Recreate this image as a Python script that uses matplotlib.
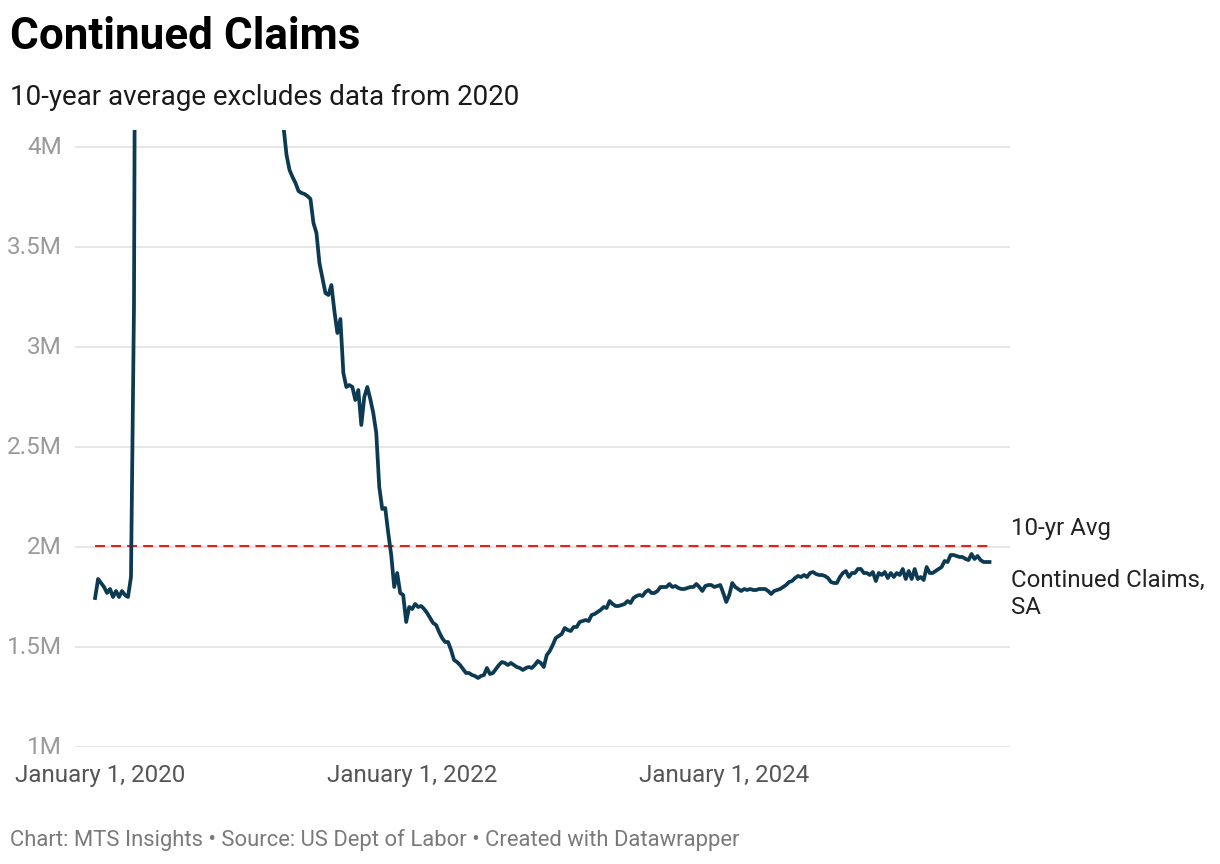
import numpy as np
import pandas as pd
import matplotlib
matplotlib.use("Agg")
import matplotlib.pyplot as plt
import matplotlib.transforms as mtransforms

plt.rcParams['font.family'] = ['Roboto', 'DejaVu Sans']

# weekly continued claims, millions (week ending Saturday, from 2019-12-21)
pre_covid = [1.745, 1.84, 1.82, 1.80, 1.77, 1.79, 1.75, 1.78, 1.75, 1.78, 1.76, 1.75, 1.85]
first_jump = [3.2]
# weeks above the top of the chart (clipped)
clipped = [7.4, 12.4, 15.8, 18.0, 22.4, 22.5, 23.1, 20.8, 21.3, 19.5, 19.3, 17.7, 17.2,
           17.3, 16.9, 16.2, 16.3, 14.8, 15.5, 14.5, 13.4, 12.7, 13.3, 11.9, 11.2, 10.0,
           9.4, 8.4, 7.3, 7.2, 6.8, 6.4, 6.1, 5.6, 5.5, 5.3, 5.3, 5.1, 5.2, 5.0, 5.2,
           5.1, 4.8, 4.8, 4.7, 4.5, 4.4, 4.3, 4.2, 4.1]
recovery = [3.96, 3.885, 3.85, 3.82, 3.78, 3.77, 3.765, 3.755, 3.74, 3.62, 3.57, 3.42,
            3.345, 3.27, 3.26, 3.31, 3.18, 3.07, 3.14, 2.87, 2.80, 2.81, 2.80, 2.735,
            2.785, 2.61, 2.75, 2.80, 2.74, 2.67, 2.57, 2.30, 2.19, 2.195, 2.07, 1.96,
            1.80, 1.87, 1.77, 1.76, 1.625, 1.70, 1.69, 1.715, 1.70, 1.705, 1.69, 1.67,
            1.645, 1.62, 1.61, 1.575, 1.545, 1.525, 1.525, 1.485, 1.435, 1.425, 1.41,
            1.39, 1.37, 1.37, 1.36, 1.355, 1.345, 1.355, 1.36, 1.395, 1.365, 1.37, 1.39,
            1.41, 1.425, 1.42, 1.41, 1.42, 1.41, 1.40, 1.395, 1.385, 1.395, 1.40, 1.395,
            1.41, 1.43, 1.42, 1.40, 1.46, 1.48, 1.51, 1.545, 1.555, 1.565, 1.595, 1.585,
            1.58, 1.60, 1.60, 1.625, 1.63, 1.635, 1.63, 1.66, 1.665, 1.675, 1.685, 1.70,
            1.695, 1.73, 1.715, 1.705, 1.705, 1.71, 1.715, 1.73, 1.72, 1.745, 1.755, 1.76,
            1.755, 1.775, 1.785, 1.77, 1.77, 1.78, 1.80, 1.80, 1.80, 1.815, 1.80, 1.805,
            1.795, 1.79, 1.79, 1.795, 1.80, 1.80, 1.815, 1.80, 1.78, 1.805, 1.81, 1.81,
            1.80, 1.805, 1.81, 1.77, 1.725, 1.76, 1.82, 1.80, 1.79, 1.78, 1.79, 1.785,
            1.79, 1.785, 1.785, 1.79, 1.79, 1.79, 1.78, 1.765, 1.78, 1.785, 1.79, 1.80,
            1.81, 1.825, 1.83, 1.845, 1.855, 1.85, 1.86, 1.85, 1.87, 1.875, 1.865, 1.86,
            1.86, 1.855, 1.845, 1.825, 1.82, 1.82, 1.85, 1.87, 1.88, 1.85, 1.87, 1.87,
            1.89, 1.89, 1.87, 1.87, 1.86, 1.875, 1.83, 1.87, 1.86, 1.875, 1.845, 1.87,
            1.85, 1.87, 1.86, 1.89, 1.84, 1.88, 1.84, 1.89, 1.84, 1.85, 1.835, 1.90,
            1.87, 1.87, 1.88, 1.89, 1.90, 1.93, 1.925, 1.96, 1.96, 1.955, 1.95, 1.95,
            1.94, 1.935, 1.965, 1.94, 1.955, 1.935, 1.925, 1.925, 1.925]

ten_yr_avg = 2.005

values = np.array(pre_covid + first_jump + clipped + recovery) * 1e6
dates = pd.date_range('2019-12-21', periods=len(values), freq='7D')

ytick_vals = [1.0, 1.5, 2.0, 2.5, 3.0, 3.5, 4.0]
ytick_labels = ['1M', '1.5M', '2M', '2.5M', '3M', '3.5M', '4M']
xtick_dates = ['2020-01-01', '2022-01-01', '2024-01-01']
xtick_labels = ['January 1, 2020', 'January 1, 2022', 'January 1, 2024']

fig = plt.figure(figsize=(12.2, 8.64), dpi=100, facecolor='white')
W, H = 1220, 864
ax = fig.add_axes([75 / W, (H - 747) / H, (1010 - 75) / W, (747 - 130) / H])

ax.plot(dates, values, color='#0b3a52', lw=2.7, solid_joinstyle='round', zorder=3)
ax.hlines(ten_yr_avg * 1e6, dates[0], dates[-1], colors='#e8201c', lw=1.5,
          linestyles=(0, (4.8, 2.9)), zorder=2)

ax.set_ylim(1.0e6, 4.085e6)
ax.set_xlim(pd.Timestamp('2019-11-04'), pd.Timestamp('2025-10-31'))

for v in ytick_vals:
    ax.axhline(v * 1e6, color='#e3e3e3', lw=1.2, zorder=1)
ax.set_yticks([v * 1e6 for v in ytick_vals])
ax.set_yticklabels(ytick_labels)
ax.set_xticks(pd.to_datetime(xtick_dates))
ax.set_xticklabels(xtick_labels)
ax.tick_params(axis='y', length=0, pad=9.4, labelsize=17.5, labelcolor='#9a9a9a')
ax.tick_params(axis='x', length=0, pad=12, labelsize=17.4, labelcolor='#555555')
for lab in ax.get_yticklabels():
    lab.set_verticalalignment('center')
for s in ax.spines.values():
    s.set_visible(False)

# direct labels on the right
trans = mtransforms.blended_transform_factory(ax.transAxes, ax.transData)
ax.text(1.001, 2.095e6, '10-yr Avg', transform=trans,
        fontsize=17.3, color='#222222', va='center', ha='left')
ax.text(1.001, 1.835e6, 'Continued Claims,', transform=trans,
        fontsize=17.3, color='#222222', va='center', ha='left')
ax.text(1.001, 1.70e6, 'SA', transform=trans,
        fontsize=17.3, color='#222222', va='center', ha='left')

fig.text(10 / W, 1 - 37 / H, 'Continued Claims', fontsize=31.7, fontweight='bold',
         color='#000000', va='center', ha='left')
fig.text(10 / W, 1 - 97 / H, '10-year average excludes data from 2020', fontsize=20,
         color='#1a1a1a', va='center', ha='left')
fig.text(10 / W, 1 - 840 / H,
         'Chart: MTS Insights \u2022 Source: US Dept of Labor \u2022 Created with Datawrapper',
         fontsize=15.8, color='#7a7a7a', va='center', ha='left')

plt.savefig('out.png', dpi=100, facecolor='white')
